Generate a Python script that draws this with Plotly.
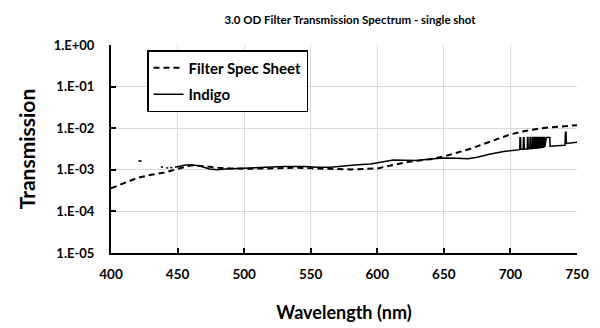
import plotly.graph_objects as go

# Manufacturer spec-sheet transmission curve
spec_nm = [400, 410, 420, 430, 440, 450, 460, 470, 480, 490, 500, 520, 540,
           560, 580, 600, 610, 620, 630, 640, 650, 660, 670, 680, 690, 700,
           710, 720, 730, 740, 750]
spec_T = [3.6e-4, 4.7e-4, 6.4e-4, 7.6e-4, 8.6e-4, 1.05e-3, 1.28e-3, 1.22e-3,
          1.12e-3, 1.08e-3, 1.06e-3, 1.08e-3, 1.12e-3, 1.06e-3, 1.02e-3,
          1.08e-3, 1.28e-3, 1.48e-3, 1.66e-3, 1.8e-3, 2.1e-3, 2.55e-3,
          3.2e-3, 4.2e-3, 5.5e-3, 7.1e-3, 8.4e-3, 9.6e-3, 1.05e-2, 1.12e-2,
          1.18e-2]

# Indigo single-shot measurement (None marks dropouts)
indigo_nm = [420.5, 423.0, 423.5,
             437.5, 439.0, 439.5, 441.5, 443.0, 443.5, 444.5, 446.0, 446.5,
             448, 452, 456, 462, 468, 474, 480, 486, 495, 505, 515, 530, 545,
             555, 565, 575, 585, 595, 605, 612, 620, 630, 640, 650, 660, 668,
             675, 685, 695, 702, 706,
             707.0, 707.2, 707.6, 707.8, 709.6, 709.8, 710.2, 710.4,
             712.6, 712.8, 713.2, 713.4, 714.6, 714.8, 715.2, 715.4,
             716.4, 716.6, 717.0, 717.2, 718.0, 718.2, 718.6, 718.8,
             719.4, 719.6, 720.0, 720.2, 720.8, 721.0, 721.4, 721.6,
             722.2, 722.4, 722.8, 723.0, 723.6, 723.8, 724.2, 724.4,
             725.0, 725.2, 725.6, 725.8, 727.0, 729.6, 729.8,
             735.0, 741.0, 741.3, 741.8, 742.0, 746.0, 750.0]
indigo_T = [1.65e-3, 1.6e-3, None,
            1.18e-3, 1.15e-3, None, 1.12e-3, 1.1e-3, None, 1.14e-3, 1.12e-3, None,
            1.15e-3, 1.22e-3, 1.3e-3, 1.3e-3, 1.2e-3, 1.05e-3, 1.0e-3, 1.04e-3,
            1.08e-3, 1.12e-3, 1.17e-3, 1.2e-3, 1.2e-3, 1.15e-3, 1.15e-3,
            1.24e-3, 1.32e-3, 1.38e-3, 1.55e-3, 1.72e-3, 1.7e-3, 1.68e-3,
            1.82e-3, 1.92e-3, 1.9e-3, 1.85e-3, 2.0e-3, 2.4e-3, 2.75e-3,
            2.9e-3, 3.0e-3,
            3.05e-3, 5.9e-3, 5.9e-3, 3.1e-3, 3.1e-3, 5.9e-3, 5.9e-3, 3.15e-3,
            3.15e-3, 6.0e-3, 6.0e-3, 3.2e-3, 3.2e-3, 6.0e-3, 6.0e-3, 3.25e-3,
            3.25e-3, 6.0e-3, 6.0e-3, 3.3e-3, 3.3e-3, 6.0e-3, 6.0e-3, 3.3e-3,
            3.3e-3, 6.0e-3, 6.0e-3, 3.35e-3, 3.35e-3, 6.0e-3, 6.0e-3, 3.4e-3,
            3.4e-3, 6.0e-3, 6.0e-3, 3.45e-3, 3.45e-3, 6.0e-3, 6.0e-3, 3.5e-3,
            3.5e-3, 6.0e-3, 6.0e-3, 3.55e-3, 6.0e-3, 6.0e-3, 3.7e-3,
            3.8e-3, 3.9e-3, 8.0e-3, 8.0e-3, 4.3e-3, 4.4e-3, 4.6e-3]

y_tickvals = [1e0, 1e-1, 1e-2, 1e-3, 1e-4, 1e-5]
y_ticktext = ["1.E+00", "1.E-01", "1.E-02", "1.E-03", "1.E-04", "1.E-05"]
x_tickvals = [400, 450, 500, 550, 600, 650, 700, 750]

FONT = "Lato"


def bold(size):
    return dict(size=size, family=FONT, color="black", weight="bold")


fig = go.Figure()
fig.add_trace(go.Scatter(
    x=spec_nm, y=spec_T, mode="lines", name="Filter Spec Sheet",
    legendgroup="a",
    line=dict(color="black", width=2, dash="6px,4px"),
))
fig.add_trace(go.Scatter(
    x=indigo_nm, y=indigo_T, mode="lines", name="Indigo",
    legendgroup="b", connectgaps=False,
    line=dict(color="black", width=1.5),
))

fig.update_layout(
    width=600, height=328,
    margin=dict(l=111, r=23, t=45, b=75),
    paper_bgcolor="white", plot_bgcolor="white",
    font=dict(family=FONT, color="black"),
    title=dict(
        text="3.0 OD Filter Transmission Spectrum - single shot",
        font=bold(11.5),
        x=350 / 600, xanchor="center", y=1 - 20 / 328, yanchor="middle",
    ),
    showlegend=True,
    legend=dict(
        x=(147 - 111) / 466, y=(253 - 50) / 208, xanchor="left", yanchor="top",
        bordercolor="black", borderwidth=1.5, bgcolor="white",
        font=bold(15),
        tracegroupgap=4, itemwidth=30, traceorder="grouped",
    ),
)

fig.update_xaxes(
    range=[400, 750], tickvals=x_tickvals,
    tickfont=bold(13.5),
    ticks="inside", ticklen=5, tickwidth=1.5, tickcolor="black",
    showline=True, linecolor="black", linewidth=2,
    showgrid=True, gridcolor="#d9d9d9", gridwidth=1,
    zeroline=False, ticklabelstandoff=8, automargin=False,
    title=dict(text="Wavelength (nm)", font=bold(18), standoff=25),
)
fig.update_yaxes(
    type="log", range=[-5, 0], tickvals=y_tickvals, ticktext=y_ticktext,
    tickfont=bold(13),
    ticks="inside", ticklen=5, tickwidth=1.5, tickcolor="black",
    showline=True, linecolor="black", linewidth=2,
    showgrid=True, gridcolor="#d9d9d9", gridwidth=1,
    zeroline=False, automargin=False,
    ticklabelstandoff=12,
    title=dict(text="Transmission", font=bold(21), standoff=12),
)

fig.write_html("out.html")
